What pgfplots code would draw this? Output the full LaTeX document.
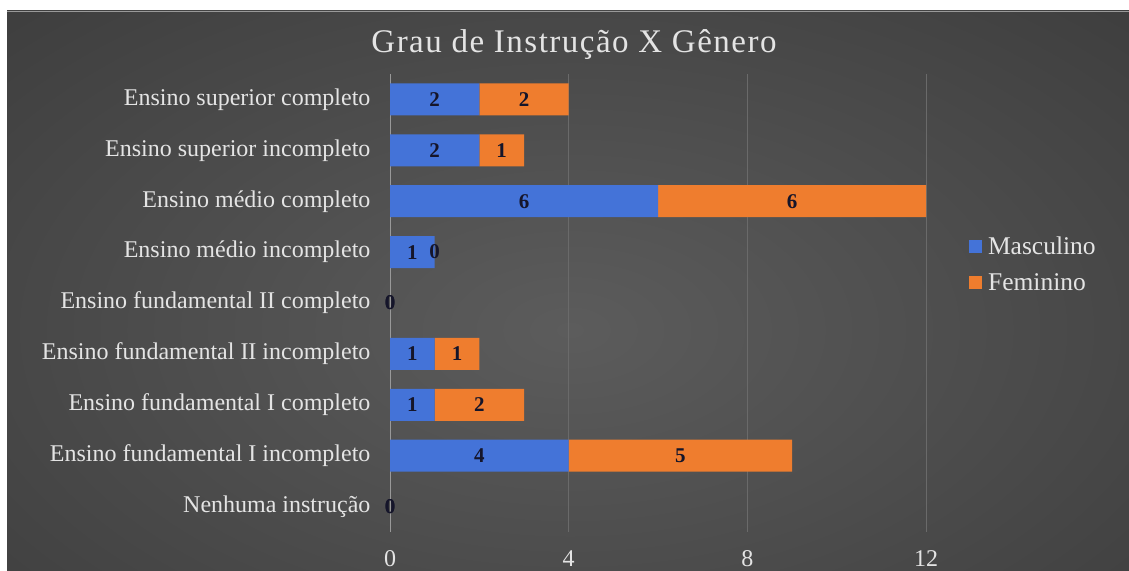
\documentclass[border=0pt]{standalone}
\usepackage{pgfplots}
\pgfplotsset{compat=1.18}
\usepackage{pgfplotstable}
\usepackage{fontspec}
\setmainfont{Liberation Serif}
\newfontfamily\titlefont[LetterSpace=4.5]{Liberation Serif}
\definecolor{bgin}{HTML}{5C5C5C}
\definecolor{bgout}{HTML}{282828}
\definecolor{masc}{HTML}{4473D8}
\definecolor{fem}{HTML}{EF7D2E}
\definecolor{lbl}{HTML}{E4E4E4}
\definecolor{gridc}{HTML}{6A6A6A}
\definecolor{dlbl}{HTML}{15152A}
\pgfdeclareradialshading{bgshade}{\pgfpoint{0bp}{0bp}}{color(0bp)=(bgin); color(62bp)=(bgout); color(80bp)=(bgout)}
\pgfplotstableread{
y m f
0 0 0
1 4 5
2 1 2
3 1 1
4 0 0
5 1 0
6 6 6
7 2 1
8 2 2
}\datatable
\pgfplotsset{common/.style={
  at={(390pt,38pt)}, anchor=south west,
  scale only axis, width=603pt, height=458pt,
  xmin=0, xmax=13.5, ymin=-0.5, ymax=8.5}}
\begin{document}
\begin{tikzpicture}[x=1pt,y=1pt]
\useasboundingbox (0,0) rectangle (1129,570);
\fill[white] (0,0) rectangle (1129,570);
\begin{scope}
\clip (7,0) rectangle (1129,559);
\shade[shading=bgshade] (7,-80) rectangle (1133,560);
\end{scope}
\draw[gray!80, line width=0.8pt] (7,559) -- (1129,559);
\node[font=\titlefont\fontsize{33}{38}\selectfont, text=lbl] at (574,525) {Grau de Instrução X Gênero};
\begin{axis}[
  common,
  xbar stacked, bar width=32pt,
  xtick={4,8,12}, extra x ticks={0},
  extra x tick style={grid style={color=gray!80!white, line width=1pt}},
  xmajorgrids, grid style={color=gridc, line width=0.8pt},
  ytick={0,...,8},
  yticklabels={Nenhuma instrução, Ensino fundamental I incompleto, Ensino fundamental I completo, Ensino fundamental II incompleto, Ensino fundamental II completo, Ensino médio incompleto, Ensino médio completo, Ensino superior incompleto, Ensino superior completo},
  axis line style={draw=none}, tick style={draw=none},
  /pgf/number format/assume math mode=true,
  tick label style={font=\fontsize{24}{28}\selectfont, text=lbl},
  xticklabel style={yshift=-15pt},
  yticklabel style={xshift=-16pt},
  legend style={at={(0.955,0.653)}, anchor=north west, draw=none, fill=none, font=\fontsize{25.5}{29}\selectfont, text=lbl, row sep=13pt},
  legend cell align=left,
  legend image code/.code={\fill[#1] (0pt,-6.5pt) rectangle (13pt,6.5pt); \path (17pt,0pt);},
]
\addplot[fill=masc, draw=none] table[x=m, y=y] {\datatable};
\addplot[fill=fem, draw=none] table[x=f, y=y] {\datatable};
\legend{Masculino, Feminino}
\end{axis}
\begin{axis}[
  common, axis lines=none, ticks=none,
  nodes near coords={\fontsize{21}{25}\selectfont\bfseries\pgfmathprintnumber[assume math mode=true]{\pgfplotspointmeta}},
  point meta=explicit,
  every node near coord/.append style={text=dlbl, anchor=center, inner sep=0pt},
]
\addplot[only marks, mark=none] table[x expr=\thisrow{m}/2, y=y, meta=m] {\datatable};
\addplot[only marks, mark=none] table[x expr=\thisrow{m}+\thisrow{f}/2, y=y, meta=f] {\datatable};
\end{axis}
\end{tikzpicture}
\end{document}
